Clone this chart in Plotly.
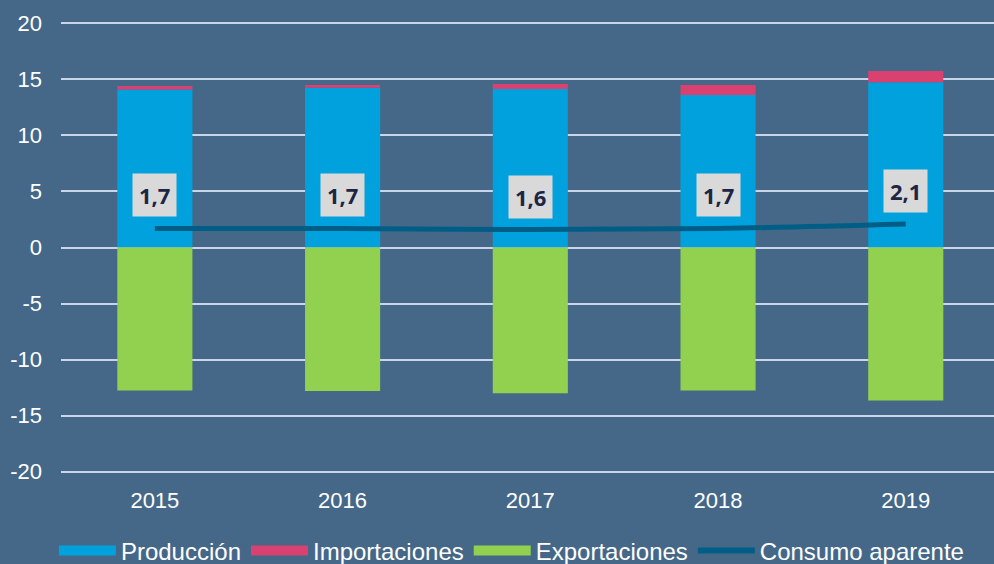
import plotly.graph_objects as go

years = ["2015", "2016", "2017", "2018", "2019"]
produccion = [14.1, 14.25, 14.15, 13.6, 14.75]
importaciones = [0.3, 0.25, 0.45, 0.9, 1.0]
exportaciones = [-12.75, -12.8, -13.0, -12.75, -13.65]
consumo = [1.7, 1.7, 1.6, 1.7, 2.1]
consumo_labels = ["1,7", "1,7", "1,6", "1,7", "2,1"]
yticks = [20, 15, 10, 5, 0, -5, -10, -15, -20]
ytick_text = ["20", "15", "10", "5", "0", "-5", "-10", "-15", "-20"]

names = ["Producción", "Importaciones", "Exportaciones", "Consumo aparente"]
colors = ["#00a1dd", "#d94171", "#92d050", "#005e86"]

bg = "#456889"
fig = go.Figure()
for vals, name, col in zip([produccion, importaciones, exportaciones], names[:3], colors[:3]):
    fig.add_bar(x=years, y=vals, name=name, marker_color=col, marker_line_width=0,
                showlegend=False, legendgroup=name)
fig.add_scatter(x=years, y=consumo, name=names[3], mode="lines",
                line=dict(color=colors[3], width=5, shape="spline"), showlegend=False,
                legendgroup=names[3])

# legend entries (wide rectangle swatches as in the reference)
for name, col, w in zip(names, colors, [12, 12, 12, 6]):
    fig.add_scatter(x=[None], y=[None], mode="lines", name=name, legendgroup=name,
                    line=dict(color=col, width=w), showlegend=True)

for i, (y, t) in enumerate(zip(consumo, consumo_labels)):
    fig.add_annotation(x=i, y=y, text="<b>" + t + "</b>", showarrow=False, yshift=33,
                       bgcolor="#d9d9d9", borderpad=6,
                       font=dict(family="Open Sans", size=22, color="#1b2545"))

fig.update_layout(
    barmode="relative",
    bargap=0.6,
    width=994, height=564,
    paper_bgcolor=bg, plot_bgcolor=bg,
    margin=dict(l=61, r=0, t=20, b=89),
    font=dict(family="Liberation Sans", color="white", size=22),
    showlegend=True,
    legend=dict(orientation="h", x=0.515, xanchor="center", xref="container",
                y=0.063, yanchor="top", yref="container",
                font=dict(size=24, color="white"), traceorder="normal",
                itemwidth=57, bgcolor="rgba(0,0,0,0)"),
)
fig.update_yaxes(range=[-20.3, 20.3], tickvals=yticks, ticktext=ytick_text,
                 showgrid=True, gridcolor="#c9d5e8",
                 gridwidth=2, zeroline=False, ticks="", ticklabelstandoff=18,
                 tickfont=dict(size=22, color="white"))
fig.update_xaxes(type="category", categoryorder="array", categoryarray=years,
                 range=[-0.5, 4.47],
                 showgrid=False, zeroline=False,
                 tickfont=dict(size=22, color="white"), ticklabelstandoff=10)

fig.write_html("out.html", post_script="document.body.style.margin='0';",
               config={"displayModeBar": False})
